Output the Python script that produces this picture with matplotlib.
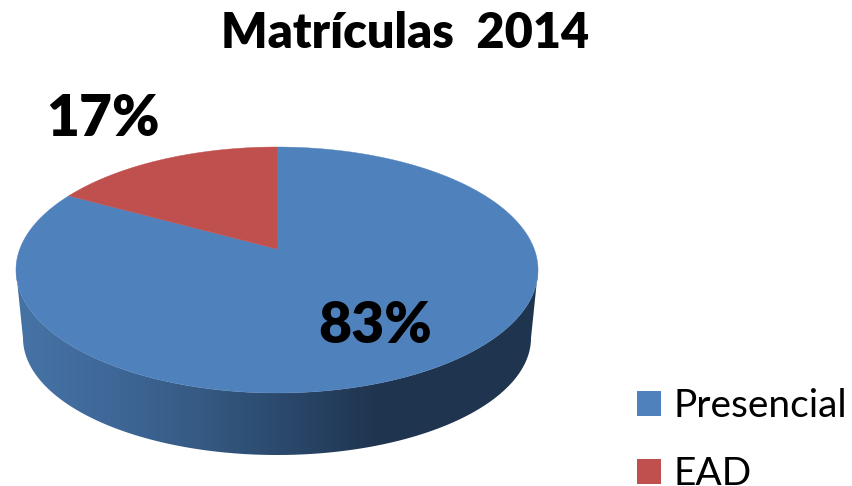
import numpy as np
import matplotlib
matplotlib.use("Agg")
import matplotlib.pyplot as plt
from matplotlib.patches import Polygon, Patch
from matplotlib.colors import LinearSegmentedColormap

categories = ["Presencial", "EAD"]
shares = [83, 17]
labels = ["83%", "17%"]
title = "Matrículas  2014"
colors = ["#4f81bd", "#c0504d"]

plt.rcParams["font.family"] = ["Lato", "DejaVu Sans"]
fig = plt.figure(figsize=(8.52, 4.86), dpi=100)
ax = fig.add_axes([0, 0, 1, 1])

# the pie's own angles, then a perspective projection into pixel coordinates
wedges = ax.pie(shares, colors=colors, startangle=90, counterclock=False)[0]
ax.set_aspect("auto")
ax.set_xlim(0, 852)
ax.set_ylim(486, 0)
ax.axis("off")

CX, CY, A, B, K = 277.0, 249.0, 257.2, 119.4, 0.1707


def project(theta_deg):
    t = np.radians(np.asarray(theta_deg, dtype=float))
    x, y = np.cos(t), np.sin(t)
    d = 1 + K * y
    return CX + A * x / d, CY - B * y / d


# side wall: starts and ends at the widest points of the top face
widest = np.degrees(np.arcsin(K))
th = np.linspace(180 + widest, 360 - widest, 300)
tx, ty = project(th)
s = np.radians(np.linspace(360, 180, 300))
LX, LY, LA, LB = 277.0, 338.0, 254.0, 117.0
bx = LX + LA * np.cos(s)
by = LY - LB * np.sin(s)
side = Polygon(np.r_[np.c_[tx, ty], np.c_[bx, by]], closed=True, fc="none", ec="none",
               transform=ax.transData, zorder=1)
ax.add_patch(side)
stops = [(16, "#4673a6"), (100, "#40699a"), (200, "#355a83"), (277, "#2c4a6e"),
         (380, "#1f344e"), (538, "#1f344e")]
cmap = LinearSegmentedColormap.from_list(
    "side", [((p - 16) / (538 - 16), c) for p, c in stops])
im = ax.imshow(np.linspace(0, 1, 522)[None, :], extent=(16, 538, 460, 260), cmap=cmap,
               aspect="auto", zorder=1)
im.set_clip_path(side)
ax.set_xlim(0, 852)
ax.set_ylim(486, 0)

# top face
for w, c in zip(wedges, colors):
    t1, t2 = w.theta1, w.theta2
    w.remove()
    px, py = project(np.linspace(t1, t2, 300))
    pts = np.c_[np.r_[CX, px], np.r_[CY, py]]
    ax.add_patch(Polygon(pts, closed=True, fc=c, ec=c, lw=0.3, zorder=2))

ax.text(405, 34, title, ha="center", va="center", fontsize=35, fontweight="heavy", color="black")
ax.text(375, 326, labels[0], ha="center", va="center", fontsize=41, fontweight="heavy", color="black")
ax.text(103, 119, labels[1], ha="center", va="center", fontsize=41, fontweight="heavy", color="black")

handles = [Patch(fc=c, ec="none") for c in colors]
leg = ax.legend(handles, categories, loc="upper left", bbox_to_anchor=(637, 388),
                bbox_transform=ax.transData, frameon=False, fontsize=28,
                handlelength=0.62, handleheight=0.62, handletextpad=0.33,
                labelspacing=0.82, borderpad=0, borderaxespad=0)

fig.savefig("out.png", dpi=100)
